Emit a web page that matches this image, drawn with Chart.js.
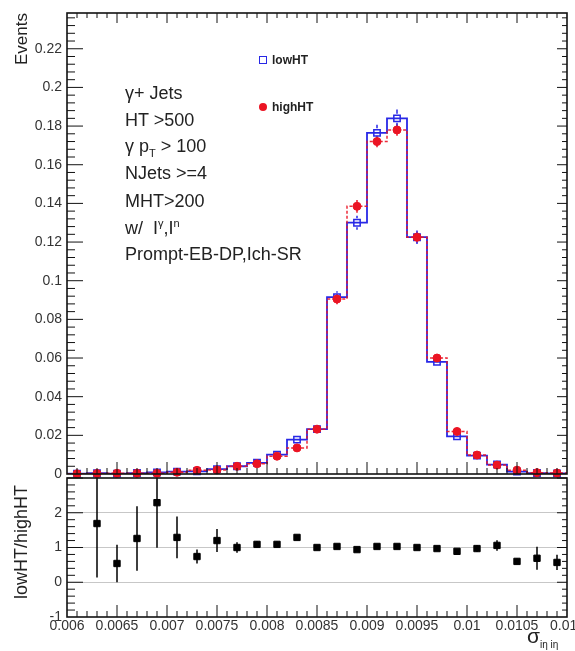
<!DOCTYPE html>
<html lang="en">
<head>
<meta charset="UTF-8">
<title>lowHT vs highHT sigma ieta ieta</title>
<script src="https://cdn.jsdelivr.net/npm/chart.js"></script>
<style>
    body { margin: 0; background: #fff; font-family: 'Liberation Sans', Arial, sans-serif; }
    #wrap { position: relative; width: 575px; height: 651px; overflow: hidden; }
    canvas { position: absolute; left: 0; }
    .txt { position: absolute; color: #222; font-size: 18px; line-height: 20px; white-space: nowrap; }
    .txt sub, .txt sup { font-size: 11px; line-height: 0; }
    .leg { position: absolute; font-size: 12px; font-weight: bold; color: #222; line-height: 14px; }
    .vtitle { position: absolute; writing-mode: vertical-rl; transform: rotate(180deg); color: #222; white-space: nowrap; }
</style>
</head>
<body>
<div id="wrap">
    <canvas id="mainChart" width="575" height="480" style="top:0"></canvas>
    <canvas id="ratioChart" width="575" height="181" style="top:470px"></canvas>

    <div class="vtitle" style="left:12px; top:13px; font-size:17px; line-height:20px;">Events</div>
    <div class="vtitle" style="left:11px; top:477px; height:130px; font-size:18px; line-height:20px; text-align:center;">lowHT/highHT</div>

    <div class="txt" style="left:125px; top:83px;">γ+ Jets</div>
    <div class="txt" style="left:125px; top:110px;">HT &gt;500</div>
    <div class="txt" style="left:125px; top:136px;">γ p<sub>T</sub> &gt; 100</div>
    <div class="txt" style="left:125px; top:163px;">NJets &gt;=4</div>
    <div class="txt" style="left:125px; top:191px;">MHT&gt;200</div>
    <div class="txt" style="left:125px; top:218px;">w/&nbsp; I<sup>γ</sup>,I<sup>n</sup></div>
    <div class="txt" style="left:125px; top:244px;">Prompt-EB-DP,Ich-SR</div>

    <div style="position:absolute; left:259px; top:56px; width:6px; height:6px; border:1.5px solid rgb(40,40,230);"></div>
    <div class="leg" style="left:272px; top:53px;">lowHT</div>
    <div style="position:absolute; left:259px; top:103px; width:8px; height:8px; border-radius:50%; background:rgb(235,20,35);"></div>
    <div class="leg" style="left:272px; top:100px;">highHT</div>

    <div class="txt" style="left:527px; top:626px; font-size:21px;">σ<sub style="font-size:10px">iη iη</sub></div>
</div>

<script>
    // bin centres of the sigma_ietaieta histogram (width 0.0002)
    const binWidth = 0.0002;
    const binCenters = [0.0061, 0.0063, 0.0065, 0.0067, 0.0069, 0.0071, 0.0073, 0.0075, 0.0077, 0.0079,
        0.0081, 0.0083, 0.0085, 0.0087, 0.0089, 0.0091, 0.0093, 0.0095, 0.0097, 0.0099,
        0.0101, 0.0103, 0.0105, 0.0107, 0.0109];

    const lowHT = [0.0002, 0.0004, 0.0002, 0.0005, 0.0008, 0.0012, 0.0014, 0.0025, 0.0040, 0.0058,
        0.0100, 0.0178, 0.0232, 0.0915, 0.1300, 0.1765, 0.1840, 0.1225, 0.0580, 0.0195,
        0.0095, 0.0049, 0.0012, 0.0005, 0.0003];
    const lowHTErr = [0.0002, 0.0003, 0.0002, 0.0003, 0.0004, 0.0005, 0.0005, 0.0007, 0.0008, 0.0010,
        0.0013, 0.0017, 0.0019, 0.0030, 0.0036, 0.0042, 0.0046, 0.0035, 0.0024, 0.0014,
        0.0009, 0.0007, 0.0003, 0.0002, 0.0002];

    const highHT = [0.0001, 0.0003, 0.0004, 0.0004, 0.0004, 0.0009, 0.0019, 0.0021, 0.0040, 0.0053,
        0.0092, 0.0135, 0.0232, 0.0905, 0.1385, 0.1720, 0.1780, 0.1225, 0.0600, 0.0220,
        0.0098, 0.0046, 0.0020, 0.0007, 0.0005];
    const highHTErr = [0.0001, 0.0002, 0.0003, 0.0003, 0.0003, 0.0004, 0.0006, 0.0006, 0.0008, 0.0009,
        0.0011, 0.0014, 0.0018, 0.0027, 0.0033, 0.0030, 0.0030, 0.0028, 0.0020, 0.0012,
        0.0009, 0.0006, 0.0004, 0.0002, 0.0002];

    // ratio panel lowHT/highHT
    const ratioX = [0.0063, 0.0065, 0.0067, 0.0069, 0.0071, 0.0073, 0.0075, 0.0077, 0.0079, 0.0081,
        0.0083, 0.0085, 0.0087, 0.0089, 0.0091, 0.0093, 0.0095, 0.0097, 0.0099, 0.0101,
        0.0103, 0.0105, 0.0107, 0.0109];
    const ratioVals = [1.69, 0.54, 1.26, 2.29, 1.29, 0.74, 1.20, 1.00, 1.09, 1.09,
        1.29, 1.00, 1.03, 0.94, 1.03, 1.03, 1.00, 0.97, 0.89, 0.97,
        1.06, 0.60, 0.69, 0.57];
    const ratioErr = [1.55, 0.54, 0.93, 1.30, 0.60, 0.20, 0.33, 0.15, 0.10, 0.08,
        0.07, 0.04, 0.03, 0.02, 0.02, 0.02, 0.02, 0.03, 0.05, 0.10,
        0.15, 0.08, 0.33, 0.22];

    const xMin = 0.006, xMax = 0.011;
    const blue = 'rgb(40,40,230)';
    const red = 'rgb(235,20,35)';

    Chart.defaults.font.family = "'Liberation Sans', Arial, sans-serif";
    Chart.defaults.color = '#333';

    function stepPoints(vals) {
        const pts = binCenters.map((c, i) => ({ x: c - binWidth / 2, y: vals[i] }));
        pts.push({ x: binCenters[binCenters.length - 1] + binWidth / 2, y: vals[vals.length - 1] });
        return pts;
    }

    function markerPoints(xs, vals) {
        return xs.map((x, i) => ({ x: x, y: vals[i] }));
    }

    // vertical error bars, drawn under the markers, leaving the marker itself empty
    const errorBars = {
        id: 'errorBars',
        beforeDatasetsDraw(chart) {
            const { ctx, chartArea: a, scales } = chart;
            ctx.save();
            ctx.beginPath();
            ctx.rect(a.left, a.top, a.right - a.left, a.bottom - a.top);
            ctx.clip();
            chart.data.datasets.forEach(ds => {
                if (!ds.errors) return;
                const gap = ds.errGap || 0;
                ctx.strokeStyle = ds.errColor;
                ctx.lineWidth = 1.5;
                ds.data.forEach((p, j) => {
                    const px = scales.x.getPixelForValue(p.x);
                    const py = scales.y.getPixelForValue(p.y);
                    const y1 = scales.y.getPixelForValue(p.y + ds.errors[j]);
                    const y2 = scales.y.getPixelForValue(p.y - ds.errors[j]);
                    ctx.beginPath();
                    if (py - gap > y1) { ctx.moveTo(px, y1); ctx.lineTo(px, py - gap); }
                    if (py + gap < y2) { ctx.moveTo(px, py + gap); ctx.lineTo(px, y2); }
                    ctx.stroke();
                });
            });
            ctx.restore();
        }
    };

    // ROOT-like frame with inner ticks on every side
    const rootFrame = {
        id: 'rootFrame',
        afterDraw(chart, args, opts) {
            const { ctx, chartArea: a, scales } = chart;
            ctx.save();
            ctx.strokeStyle = '#111';
            ctx.lineWidth = 1;
            const nx = Math.round((xMax - xMin) / opts.xMinor);
            for (let k = 1; k < nx; k++) {
                const px = scales.x.getPixelForValue(xMin + k * opts.xMinor);
                const major = k % 5 === 0;
                const lb = major ? opts.bottom[0] : opts.bottom[1];
                const lt = major ? opts.top[0] : opts.top[1];
                ctx.beginPath();
                ctx.moveTo(px, a.bottom); ctx.lineTo(px, a.bottom - lb);
                if (lt > 0) { ctx.moveTo(px, a.top); ctx.lineTo(px, a.top + lt); }
                ctx.stroke();
            }
            const ny = Math.round((opts.yMax - opts.yMin) / opts.yMinor);
            for (let k = 1; k <= ny; k++) {
                const v = opts.yMin + k * opts.yMinor;
                if (v > scales.y.max) break;
                const py = scales.y.getPixelForValue(v);
                const major = k % 5 === 0;
                const ll = major ? opts.left[0] : opts.left[1];
                const lr = major ? opts.right[0] : opts.right[1];
                ctx.beginPath();
                ctx.moveTo(a.left, py); ctx.lineTo(a.left + ll, py);
                ctx.moveTo(a.right, py); ctx.lineTo(a.right - lr, py);
                ctx.stroke();
            }
            ctx.lineWidth = 1.6;
            ctx.strokeRect(a.left, a.top, a.right - a.left, a.bottom - a.top);
            ctx.restore();
        }
    };

    function fixY(width) {
        return s => { s.width = width; s.paddingTop = 0; s.paddingBottom = 0; };
    }

    new Chart(document.getElementById('mainChart'), {
        type: 'line',
        data: {
            datasets: [
                {
                    type: 'scatter', data: markerPoints(binCenters, highHT), errors: highHTErr, errColor: red,
                    pointStyle: 'circle', pointRadius: 4, backgroundColor: red, borderColor: red, borderWidth: 1,
                    showLine: false, clip: false, order: 1
                },
                {
                    data: stepPoints(highHT), stepped: true, borderColor: 'rgba(235,20,35,0.9)', borderWidth: 1.5,
                    borderDash: [3, 2], pointRadius: 0, fill: false, order: 2
                },
                {
                    type: 'scatter', data: markerPoints(binCenters, lowHT), errors: lowHTErr, errColor: blue, errGap: 4.5,
                    pointStyle: 'rect', pointRadius: 4.5, backgroundColor: 'rgba(255,255,255,0)', borderColor: blue,
                    borderWidth: 1.5, showLine: false, clip: false, order: 3
                },
                {
                    data: stepPoints(lowHT), stepped: true, borderColor: blue, borderWidth: 1.8,
                    pointRadius: 0, fill: false, order: 4
                }
            ]
        },
        options: {
            responsive: false,
            animation: false,
            layout: { padding: { left: 0, right: 8, top: 13, bottom: 2 } },
            plugins: {
                legend: { display: false },
                tooltip: { enabled: false },
                rootFrame: {
                    xMinor: 0.0001, yMin: 0, yMax: 0.24, yMinor: 0.004,
                    bottom: [12, 6], top: [10, 5], left: [16, 8], right: [10, 5]
                }
            },
            scales: {
                x: { type: 'linear', min: xMin, max: xMax, display: false },
                y: {
                    min: 0, max: 0.2385,
                    afterFit: fixY(67),
                    grid: { display: false, drawTicks: false },
                    border: { display: false },
                    ticks: {
                        stepSize: 0.02, padding: 5, font: { size: 14 },
                        callback: v => v > 0.221 ? '' : String(+v.toFixed(2))
                    }
                }
            }
        },
        plugins: [errorBars, rootFrame]
    });

    new Chart(document.getElementById('ratioChart'), {
        type: 'scatter',
        data: {
            datasets: [{
                data: markerPoints(ratioX, ratioVals), errors: ratioErr, errColor: '#000',
                pointStyle: 'rect', pointRadius: 4.5, backgroundColor: '#000', borderColor: '#000',
                showLine: false, clip: false
            }]
        },
        options: {
            responsive: false,
            animation: false,
            layout: { padding: { left: 0, right: 8, top: 8, bottom: 0 } },
            plugins: {
                legend: { display: false },
                tooltip: { enabled: false },
                rootFrame: {
                    xMinor: 0.0001, yMin: -1, yMax: 3, yMinor: 0.2,
                    bottom: [12, 6], top: [0, 0], left: [16, 8], right: [10, 5]
                }
            },
            scales: {
                x: {
                    type: 'linear', min: xMin, max: xMax,
                    afterFit: s => { s.height = 34; s.paddingLeft = 0; s.paddingRight = 0; },
                    grid: { display: false, drawTicks: false },
                    border: { display: false },
                    ticks: {
                        stepSize: 0.0005, padding: 1, maxRotation: 0, autoSkip: false, font: { size: 14 },
                        callback: v => String(+v.toFixed(4))
                    }
                },
                y: {
                    min: -1, max: 3,
                    afterFit: fixY(67),
                    grid: {
                        drawTicks: false,
                        color: c => (c.tick && (c.tick.value === 0 || c.tick.value === 1 || c.tick.value === 2)) ? 'rgba(0,0,0,0.22)' : 'rgba(0,0,0,0)'
                    },
                    border: { display: false },
                    ticks: {
                        stepSize: 1, padding: 5, font: { size: 14 },
                        callback: v => v === 3 ? '' : String(v)
                    }
                }
            }
        },
        plugins: [errorBars, rootFrame]
    });
</script>
</body>
</html>
